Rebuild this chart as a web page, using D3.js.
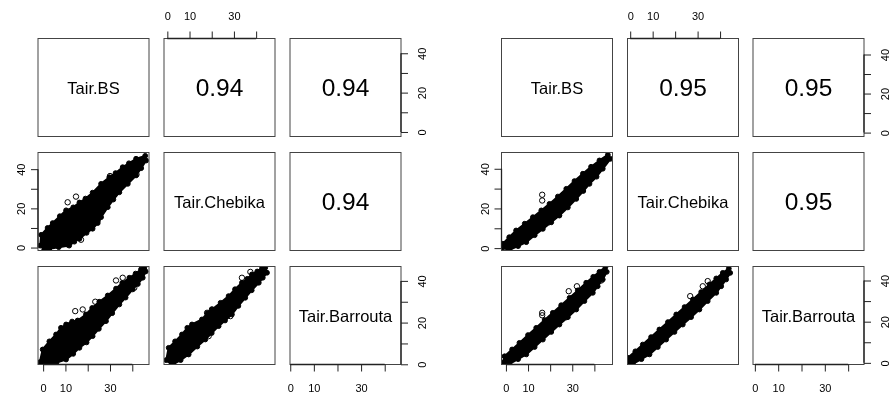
<!DOCTYPE html>
<html>
<head>
<meta charset="utf-8">
<script src="https://cdn.jsdelivr.net/npm/d3@7"></script>
<style>
  html, body { margin: 0; padding: 0; background: #ffffff; }
  svg { display: block; opacity: 0.999; will-change: transform; }
  text { font-family: "Liberation Sans", Arial, Helvetica, sans-serif; fill: #000; }
</style>
</head>
<body>
<svg id="chart" width="892" height="394"></svg>
<script>
// ---------------- DATA ----------------
const variables = ["Tair.BS", "Tair.Chebika", "Tair.Barrouta"];
// correlations for upper panels: (1,2), (1,3), (2,3)
const corrLeft = [0.94, 0.94, 0.94];
const corrRight = [0.95, 0.95, 0.95];
const tickValues = [0, 10, 20, 30, 40];
const xTickLabels = ["0", "10", "", "30", ""];
const yTickLabels = ["0", "", "20", "", "40"];
// axis ranges of each variable (BS, Chebika, Barrouta)
const domainsLeft = [[-2.3, 47.5], [-1.5, 48.5], [-0.1, 46.9]];
const domainsRight = [[-2.0, 48.2], [-1.2, 48.2], [-0.8, 46.8]];

// Dense point clouds: upper and lower edges of the black band, plus isolated points
// Left: Chebika vs BS
const leftChebikaBSUpper = [[-1.3, 1.0], [-0.9, 6.5], [2.0, 10.0], [4.3, 12.5], [7.5, 16.0], [10.3, 19.0], [13.5, 20.5], [16.3, 23.0], [19.0, 25.0], [22.2, 28.0], [26.0, 32.5], [29.7, 35.9], [32.5, 38.0], [35.7, 41.0], [38.5, 43.0], [41.7, 45.3], [45.8, 46.8]];
const leftChebikaBSLower = [[0.5, -1.0], [2.8, -0.6], [7.0, 0.2], [11.7, 1.0], [14.0, 3.0], [16.3, 4.5], [19.5, 7.5], [22.2, 9.6], [24.5, 12.5], [26.0, 15.5], [29.0, 20.6], [31.5, 24.5], [34.2, 28.2], [38.0, 32.5], [41.7, 36.8], [44.0, 40.5], [46.2, 44.4]];
const leftChebikaBSOut = [[11.0, 23.1], [14.75, 26.0], [11.0, 1.6], [21.5, 10.1], [24.5, 13.8], [41.9, 37.3], [30.0, 36.5], [17.0, 4.0]];
// Left: Barrouta vs BS
const leftBarroutaBSUpper = [[-1.5, 1.0], [-0.2, 7.1], [2.8, 11.0], [5.8, 14.3], [8.0, 17.5], [10.3, 19.1], [13.0, 20.5], [15.5, 21.0], [19.2, 23.9], [22.0, 27.0], [25.2, 30.0], [29.0, 33.0], [32.7, 36.3], [35.5, 39.0], [38.7, 41.5], [41.5, 43.5], [43.9, 45.5], [45.4, 46.3]];
const leftBarroutaBSLower = [[1.3, -0.3], [6.0, 0.8], [10.3, 2.3], [13.5, 5.0], [16.3, 7.9], [19.5, 10.5], [22.2, 13.5], [25.0, 17.0], [28.2, 20.7], [31.0, 24.5], [34.2, 28.7], [37.0, 32.0], [40.2, 35.9], [42.5, 38.5], [44.7, 41.5], [46.0, 44.5]];
const leftBarroutaBSOut = [[14.4, 25.5], [17.75, 26.3], [23.4, 30.0], [27.4, 21.0], [32.7, 40.2], [35.7, 41.5], [40.9, 36.7]];
// Left: Barrouta vs Chebika
const leftBarroutaChebikaUpper = [[-0.5, 2.0], [0.6, 7.9], [3.5, 11.0], [6.6, 14.3], [9.0, 17.5], [11.1, 19.1], [15.6, 21.5], [18.0, 24.5], [20.1, 26.3], [24.0, 29.5], [27.6, 32.7], [30.5, 36.0], [33.6, 39.1], [36.0, 41.0], [38.1, 43.1], [40.5, 44.5], [42.6, 45.9], [44.1, 46.3]];
const leftBarroutaChebikaLower = [[2.1, -0.3], [6.0, 2.0], [9.6, 4.7], [13.5, 8.5], [17.1, 11.9], [20.0, 15.0], [23.1, 18.3], [26.0, 21.0], [29.1, 23.9], [32.0, 28.0], [35.1, 31.9], [38.0, 35.5], [41.2, 39.1], [43.0, 41.5], [44.9, 43.9]];
const leftBarroutaChebikaOut = [[17.9, 24.7], [20.1, 26.3], [28.4, 23.1], [18.6, 13.5], [33.6, 41.5], [37.4, 44.3]];
// Right: Chebika vs BS
const rightChebikaBSUpper = [[-1.8, 0.0], [-1.4, 2.2], [1.5, 5.5], [4.6, 8.9], [8.5, 12.3], [12.2, 15.6], [16.0, 19.0], [19.7, 22.3], [23.5, 26.0], [27.3, 29.9], [31.0, 33.8], [34.8, 37.5], [38.5, 41.0], [42.3, 44.2], [46.1, 47.0]];
const rightChebikaBSLower = [[1.6, -0.8], [5.5, 1.0], [9.2, 3.0], [13.0, 6.5], [16.7, 9.7], [20.5, 13.0], [24.2, 16.4], [28.0, 20.5], [31.8, 24.8], [35.0, 28.8], [37.8, 32.4], [41.0, 36.0], [43.8, 40.0], [47.3, 45.0]];
const rightChebikaBSOut = [[16.4, 26.9], [16.4, 24.0], [23.9, 16.8], [19.7, 13.1], [27.3, 22.3]];
// Right: Barrouta vs BS
const rightBarroutaBSUpper = [[-1.5, 0.0], [-0.6, 3.2], [2.8, 6.5], [6.1, 9.7], [10.0, 13.5], [13.7, 17.0], [17.5, 20.8], [21.2, 24.3], [25.0, 28.0], [28.8, 31.6], [32.5, 35.2], [36.3, 38.9], [39.5, 41.8], [42.3, 44.2], [45.0, 46.5]];
const rightBarroutaBSLower = [[1.6, -0.5], [5.5, 1.8], [9.2, 4.1], [13.0, 7.7], [16.7, 11.3], [20.5, 15.0], [24.2, 18.6], [28.0, 22.2], [31.8, 25.9], [35.5, 30.0], [39.3, 34.0], [41.5, 37.2], [43.8, 40.5], [45.6, 44.2]];
const rightBarroutaBSOut = [[16.4, 24.3], [16.4, 23.1], [27.3, 22.2], [28.4, 34.8], [32.1, 37.2], [43.1, 40.0]];
// Right: Barrouta vs Chebika
const rightBarroutaChebikaUpper = [[-1.1, 0.0], [-1.05, 2.45], [2.3, 5.6], [5.6, 8.9], [9.3, 12.5], [13.0, 16.2], [16.8, 19.8], [20.5, 23.5], [24.2, 27.1], [27.9, 30.8], [31.6, 34.4], [35.3, 38.1], [38.3, 41.0], [41.2, 43.7], [43.9, 45.8]];
const rightBarroutaChebikaLower = [[1.2, -0.5], [5.0, 1.8], [8.6, 4.1], [12.3, 7.7], [16.0, 11.3], [19.7, 15.0], [23.4, 18.6], [27.1, 22.2], [30.8, 25.9], [34.5, 30.0], [38.3, 34.0], [40.5, 37.2], [42.7, 40.5], [44.5, 43.7]];
const rightBarroutaChebikaOut = [[26.7, 32.4], [32.3, 37.2], [34.5, 39.7]];

// ---------------- LAYOUT ----------------
const svg = d3.select("#chart");
const panelW = 111, panelH = 98;
const rowsY = [38.5, 152.5, 266.5];
const layouts = [
  { cols: [38, 164, 290], domains: domainsLeft, corr: corrLeft,
    clouds: {
      "1-0": [leftChebikaBSUpper, leftChebikaBSLower, leftChebikaBSOut],
      "2-0": [leftBarroutaBSUpper, leftBarroutaBSLower, leftBarroutaBSOut],
      "2-1": [leftBarroutaChebikaUpper, leftBarroutaChebikaLower, leftBarroutaChebikaOut]
    } },
  { cols: [501.5, 627.5, 753], domains: domainsRight, corr: corrRight,
    clouds: {
      "1-0": [rightChebikaBSUpper, rightChebikaBSLower, rightChebikaBSOut],
      "2-0": [rightBarroutaBSUpper, rightBarroutaBSLower, rightBarroutaBSOut],
      "2-1": [rightBarroutaChebikaUpper, rightBarroutaChebikaLower, rightBarroutaChebikaOut]
    } }
];

const frameColor = "#444";
let clipId = 0;

function drawAxis(g, scale, side) {
  const axisFn = { top: d3.axisTop, bottom: d3.axisBottom, left: d3.axisLeft, right: d3.axisRight }[side];
  const labels = (side === "top" || side === "bottom") ? xTickLabels : yTickLabels;
  const ax = axisFn(scale).tickValues(tickValues).tickSize(7).tickSizeOuter(0)
    .tickFormat((d, i) => labels[i]);
  g.call(ax);
  g.select(".domain").remove();
  g.selectAll(".tick line").attr("stroke", "#222").attr("stroke-width", 1);
  const r0 = scale(tickValues[0]), r1 = scale(tickValues[tickValues.length - 1]);
  if (side === "top" || side === "bottom") {
    g.append("line").attr("x1", r0).attr("x2", r1).attr("y1", 0).attr("y2", 0)
      .attr("stroke", "#222").attr("stroke-width", 1.3);
  } else {
    g.append("line").attr("y1", r0).attr("y2", r1).attr("x1", 0).attr("x2", 0)
      .attr("stroke", "#222").attr("stroke-width", 1.3);
  }
  const t = g.selectAll(".tick text")
    .attr("font-family", "Liberation Sans, Arial, sans-serif")
    .attr("font-size", 11).attr("fill", "#000").attr("dy", null);
  if (side === "top") {
    t.attr("y", -18.5).attr("dy", 0);
  } else if (side === "bottom") {
    t.attr("y", 27).attr("dy", 0);
  } else if (side === "left") {
    t.attr("x", null).attr("dy", 0).attr("text-anchor", "middle")
      .attr("transform", "translate(-13,0) rotate(-90)");
  } else {
    t.attr("x", null).attr("dy", 0).attr("text-anchor", "middle")
      .attr("transform", "translate(25,0) rotate(-90)");
  }
  g.attr("font-family", null).attr("font-size", null);
}

layouts.forEach(L => {
  const xs = L.domains.map((d, j) => d3.scaleLinear().domain(d).range([L.cols[j], L.cols[j] + panelW]));
  const ys = L.domains.map((d, i) => d3.scaleLinear().domain(d).range([rowsY[i] + panelH, rowsY[i]]));

  for (let i = 0; i < 3; i++) {
    for (let j = 0; j < 3; j++) {
      const x0 = L.cols[j], y0 = rowsY[i];
      const g = svg.append("g");
      if (i > j) {
        // scatter panel (lower triangle)
        const [upper, lower, out] = L.clouds[i + "-" + j];
        const id = "clip" + (clipId++);
        svg.append("clipPath").attr("id", id).append("rect")
          .attr("x", x0).attr("y", y0).attr("width", panelW).attr("height", panelH);
        const pg = g.append("g").attr("clip-path", `url(#${id})`);
        const poly = upper.concat(lower.slice().reverse());
        const line = d3.line().x(d => xs[j](d[0])).y(d => ys[i](d[1])).curve(d3.curveLinearClosed);
        pg.append("path").attr("d", line(poly))
          .attr("fill", "#000").attr("stroke", "#000").attr("stroke-width", 2)
          .attr("stroke-linejoin", "round");
        // edge points of the cloud (solid, overlapping circles)
        pg.selectAll("circle.edge").data(upper.concat(lower)).join("circle")
          .attr("class", "edge")
          .attr("cx", d => xs[j](d[0])).attr("cy", d => ys[i](d[1])).attr("r", 2.4)
          .attr("fill", "#000").attr("stroke", "#000").attr("stroke-width", 1);
        // isolated points (open circles)
        pg.selectAll("circle.out").data(out).join("circle")
          .attr("class", "out")
          .attr("cx", d => xs[j](d[0])).attr("cy", d => ys[i](d[1])).attr("r", 2.7)
          .attr("fill", "none").attr("stroke", "#000").attr("stroke-width", 1);
      } else if (i === j) {
        g.append("text").attr("x", x0 + panelW / 2).attr("y", y0 + panelH / 2)
          .attr("text-anchor", "middle").attr("dominant-baseline", "central")
          .attr("font-size", 16.5).text(variables[i]);
      } else {
        const idx = (i === 0 && j === 1) ? 0 : (i === 0 && j === 2) ? 1 : 2;
        g.append("text").attr("x", x0 + panelW / 2).attr("y", y0 + panelH / 2)
          .attr("text-anchor", "middle").attr("dominant-baseline", "central")
          .attr("font-size", 24.5).text(d3.format(".2f")(L.corr[idx]));
      }
      g.append("rect").attr("x", x0).attr("y", y0).attr("width", panelW).attr("height", panelH)
        .attr("fill", "none").attr("stroke", frameColor).attr("stroke-width", 1);
    }
  }

  // axes (pairs layout: top on col 2, bottom on cols 1 & 3, left on row 2, right on rows 1 & 3)
  drawAxis(svg.append("g").attr("transform", `translate(0,${rowsY[0]})`), xs[1], "top");
  drawAxis(svg.append("g").attr("transform", `translate(0,${rowsY[2] + panelH})`), xs[0], "bottom");
  drawAxis(svg.append("g").attr("transform", `translate(0,${rowsY[2] + panelH})`), xs[2], "bottom");
  drawAxis(svg.append("g").attr("transform", `translate(${L.cols[0]},0)`), ys[1], "left");
  drawAxis(svg.append("g").attr("transform", `translate(${L.cols[2] + panelW},0)`), ys[0], "right");
  drawAxis(svg.append("g").attr("transform", `translate(${L.cols[2] + panelW},0)`), ys[2], "right");
});
</script>
</body>
</html>
